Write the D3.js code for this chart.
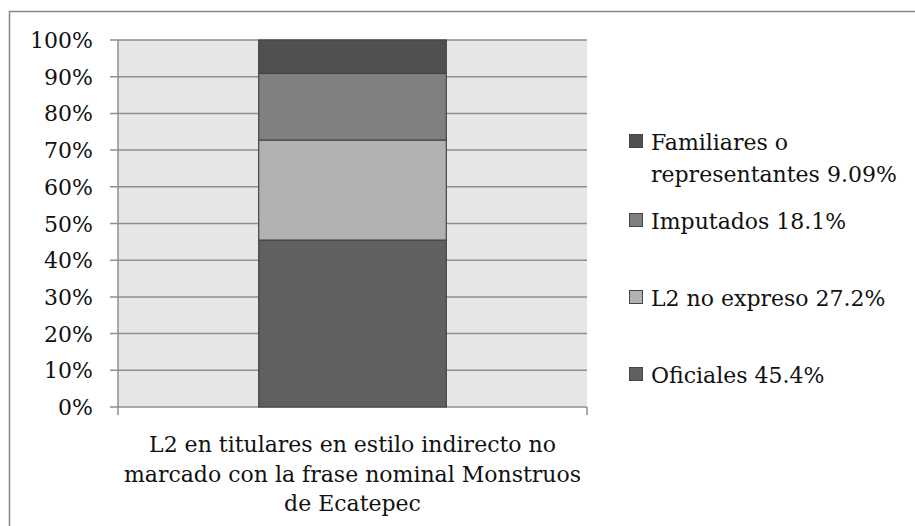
<!DOCTYPE html>
<html>
<head>
<meta charset="utf-8">
<script src="https://cdn.jsdelivr.net/npm/d3@7"></script>
<style>
  body { margin: 0; background: #fff; }
  svg text { font-family: "DejaVu Serif", serif; fill: #111; }
</style>
</head>
<body>
<div id="box"></div>
<script>
// datos
const categories = ["L2 en titulares"];
const categoryLines = ["L2 en titulares en estilo indirecto no", "marcado con la frase nominal Monstruos", "de Ecatepec"];
const seriesNames = ["Oficiales", "L2 no expreso", "Imputados", "Familiares o representantes"];
const seriesValues = [45.4, 27.2, 18.1, 9.09];
const legendLines = [["Oficiales 45.4%"], ["L2 no expreso 27.2%"], ["Imputados 18.1%"], ["Familiares o", "representantes 9.09%"]];
const yTicks = [0, 0.1, 0.2, 0.3, 0.4, 0.5, 0.6, 0.7, 0.8, 0.9, 1];
const colors = ["#606060", "#b2b2b2", "#808080", "#505050"];

const W = 915, H = 526;
const margin = { top: 40, right: 328, bottom: 119, left: 118 }
const width = W - margin.left - margin.right;
const height = H - margin.top - margin.bottom;

const svg = d3.select('#box').append('svg')
    .attr('width', W)
    .attr('height', H);

// borde del gráfico
svg.append('rect')
    .attr('x', 9.5).attr('y', 11.5)
    .attr('width', W).attr('height', H)
    .attr('fill', 'none')
    .attr('stroke', '#888')
    .attr('stroke-width', 1.5);

const g = svg.append('g')
    .attr('transform', `translate(${margin.left},${margin.top})`);

const row = { cat: categories[0] };
seriesNames.forEach((s, i) => row[s] = seriesValues[i]);

const stack = d3.stack().keys(seriesNames).offset(d3.stackOffsetExpand);
const series = stack([row]);

const x = d3.scaleBand().domain(categories).range([0, width]).paddingInner(0.6).paddingOuter(0.3);
const y = d3.scaleLinear().domain([0, 1]).range([height, 0]);

// fondo
g.append('rect')
    .attr('width', width).attr('height', height)
    .attr('fill', '#e6e6e6');

// rejilla
g.selectAll('.izgara').data(yTicks).enter().append('line')
    .attr('class', 'izgara')
    .attr('x1', -8).attr('x2', width)
    .attr('y1', d => y(d)).attr('y2', d => y(d))
    .attr('stroke', '#8e8e8e')
    .attr('stroke-width', 1.5);

// eje y
g.append('line')
    .attr('x1', 0).attr('x2', 0)
    .attr('y1', 0).attr('y2', height + 8)
    .attr('stroke', '#8e8e8e').attr('stroke-width', 1.5);
g.append('line')
    .attr('x1', width).attr('x2', width)
    .attr('y1', height).attr('y2', height + 8)
    .attr('stroke', '#8e8e8e').attr('stroke-width', 1.5);

g.selectAll('.ylab').data(yTicks).enter().append('text')
    .attr('class', 'ylab')
    .attr('x', -25)
    .attr('y', d => y(d) + 8)
    .attr('text-anchor', 'end')
    .attr('font-size', '22px')
    .text(d => d3.format('.0%')(d));

// barras
g.selectAll('.serie').data(series).enter().append('g')
    .attr('class', 'serie')
    .attr('fill', (d, i) => colors[i])
    .selectAll('rect').data(d => d).enter().append('rect')
    .attr('x', d => x(d.data.cat))
    .attr('width', x.bandwidth())
    .attr('y', d => y(d[1]))
    .attr('height', d => y(d[0]) - y(d[1]))
    .attr('stroke', '#454545')
    .attr('stroke-width', 1.2);

// etiqueta de categoría
const cx = x(categories[0]) + x.bandwidth() / 2;
g.append('text')
    .attr('text-anchor', 'middle')
    .attr('font-size', '22px')
    .selectAll('tspan').data(categoryLines).enter().append('tspan')
    .attr('x', cx)
    .attr('y', (d, i) => height + 45 + i * 29.5)
    .text(d => d);

// leyenda
const legendY = [374, 297, 220, 141];
const lg = svg.append('g');
seriesNames.forEach((s, i) => {
    lg.append('rect')
        .attr('x', 629.5).attr('y', legendY[i] - 6.5)
        .attr('width', 13).attr('height', 13)
        .attr('fill', colors[i])
        .attr('stroke', '#454545').attr('stroke-width', 1);
    lg.append('text')
        .attr('font-size', '22px')
        .selectAll('tspan').data(legendLines[i]).enter().append('tspan')
        .attr('x', 651)
        .attr('y', (d, k) => legendY[i] + 9 + k * 32)
        .text(d => d);
});
</script>
</body>
</html>
